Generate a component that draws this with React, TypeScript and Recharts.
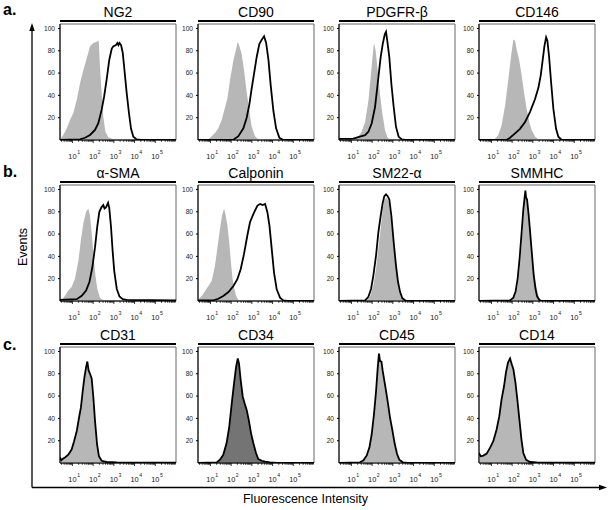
import React from "react";
import { Area, ComposedChart, Line, ReferenceArea, XAxis, YAxis } from "recharts";

// [log10 intensity, % of max events]
type Pt = [number, number];

const ng2Control: Pt[] = [[0.4,0.6],[0.56,4.5],[0.72,10],[0.88,18],[1.04,24],[1.21,36],[1.37,51],[1.53,63],[1.69,73],[1.85,84],[2.01,87],[2.17,88],[2.27,89],[2.33,66],[2.41,42],[2.49,21],[2.59,7.5],[2.73,2.4],[2.98,0.6],[3.3,0],[6,0]];
const ng2Stain: Pt[] = [[0.4,0],[1.37,0.6],[1.61,2],[1.85,4.5],[2.09,9],[2.25,15],[2.41,27],[2.53,39],[2.65,54],[2.78,72],[2.9,82],[2.98,84],[3.09,85],[3.17,87],[3.22,85],[3.27,87],[3.35,85],[3.43,78],[3.51,63],[3.62,42],[3.73,24],[3.83,10],[3.94,3],[4.1,0.6],[4.3,0],[6,0]];

const cd90Control: Pt[] = [[0.4,0],[0.9,0.6],[1.06,3.4],[1.22,6.3],[1.38,10.5],[1.54,17.6],[1.7,29],[1.82,37.5],[1.95,54.5],[2.11,71.6],[2.24,81.5],[2.32,88],[2.4,84],[2.51,77],[2.62,63],[2.75,43],[2.88,26],[2.99,12],[3.15,3.4],[3.31,0.6],[3.5,0],[6,0]];
const cd90Stain: Pt[] = [[0.4,0],[2.11,0.3],[2.35,3.4],[2.59,10.5],[2.75,20],[2.88,32],[2.99,46],[3.11,60],[3.23,74],[3.36,86],[3.48,90],[3.59,93],[3.69,87],[3.8,72],[3.91,49],[4.04,26],[4.17,10.5],[4.33,2],[4.52,0],[6,0]];

const pdgfrControl: Pt[] = [[0.4,0],[1.09,0.6],[1.33,3],[1.49,7.4],[1.66,16],[1.82,35.5],[1.93,56],[2.03,77],[2.09,87],[2.17,80],[2.27,62],[2.38,41],[2.49,24],[2.62,9],[2.73,2.4],[2.86,0.6],[3.0,0],[6,0]];
const pdgfrStain: Pt[] = [[0.4,1],[1.09,1.2],[1.41,3],[1.66,4.4],[1.82,7.4],[1.98,15],[2.14,29.6],[2.3,56],[2.41,74],[2.51,86],[2.61,94.7],[2.67,97],[2.73,89],[2.83,74],[2.93,50],[3.04,29.6],[3.15,12],[3.28,3],[3.43,0.6],[3.6,0],[6,0]];

const cd146Control: Pt[] = [[0.4,0],[1.17,0.9],[1.33,4.4],[1.49,13],[1.66,31],[1.82,55],[1.95,75.5],[2.06,90],[2.14,89],[2.22,81],[2.33,72.6],[2.46,58],[2.57,43],[2.7,28],[2.83,16],[2.94,9],[3.11,3],[3.27,0.6],[3.4,0],[6,0]];
const cd146Stain: Pt[] = [[0.4,0],[1.74,0.3],[1.9,2],[2.14,6],[2.38,10],[2.62,16],[2.86,25],[3.11,37],[3.27,47],[3.38,58],[3.48,72.6],[3.56,84.4],[3.64,92],[3.7,89],[3.78,75.5],[3.88,52],[3.99,28],[4.12,10],[4.23,3],[4.39,0],[6,0]];

const smaControl: Pt[] = [[0.4,0.5],[0.48,0.6],[0.64,4.7],[0.8,9.4],[0.96,12.5],[1.12,20],[1.29,36],[1.41,55],[1.53,70],[1.66,80],[1.77,83],[1.85,76.5],[1.93,61],[2.01,42],[2.11,23],[2.2,11],[2.33,3],[2.49,0.6],[2.7,0],[6,0]];
const smaStain: Pt[] = [[0.4,1],[1.21,1.6],[1.45,4.7],[1.66,9.4],[1.82,17],[1.96,30],[2.09,48],[2.2,67],[2.3,80],[2.4,84],[2.49,86],[2.55,83],[2.62,84],[2.72,88],[2.78,83],[2.86,67],[2.94,45],[3.02,26.6],[3.14,11],[3.27,4],[3.43,1.6],[3.62,1],[6,0.5]];

const calponinControl: Pt[] = [[0.4,1],[0.42,1.5],[0.58,4.5],[0.74,9],[0.9,13.5],[1.06,18],[1.22,31.5],[1.35,49.5],[1.46,64.5],[1.56,76.6],[1.66,82.6],[1.74,76.6],[1.82,67.6],[1.91,52.5],[1.99,34.5],[2.07,19.5],[2.16,10.5],[2.24,4.5],[2.35,0.9],[2.5,0],[6,0]];
const calponinStain: Pt[] = [[0.4,0.6],[1.14,0.6],[1.38,2],[1.62,4.5],[1.87,8],[2.11,13.5],[2.3,19.5],[2.46,28.5],[2.62,42],[2.78,58.5],[2.91,70.6],[3.04,76.6],[3.15,81],[3.27,85.6],[3.4,87],[3.52,86],[3.64,87],[3.75,79.6],[3.85,67.6],[3.96,46.5],[4.07,25.5],[4.2,10.5],[4.36,3],[4.52,0.6],[4.7,0],[6,0]];

const sm22Control: Pt[] = [[0.4,0],[1.74,0.6],[1.9,3.8],[2.06,14],[2.19,29],[2.3,47],[2.41,64.5],[2.51,82],[2.59,91],[2.7,92.6],[2.82,88],[2.91,73],[3.02,52.7],[3.14,32],[3.23,17],[3.35,5.3],[3.48,0.9],[3.6,0],[6,0]];
const sm22Stain: Pt[] = [[0.4,0],[1.66,0.6],[1.82,3.8],[1.95,11],[2.06,23],[2.19,41],[2.3,61.5],[2.41,76],[2.51,88],[2.59,94],[2.67,95.6],[2.75,94],[2.83,91],[2.93,76],[3.04,52.7],[3.15,32],[3.25,17],[3.35,8],[3.46,2.4],[3.59,0.6],[3.7,0],[6,0]];

const smmhcControl: Pt[] = [[0.4,0],[1.98,0.6],[2.14,4.4],[2.25,11.8],[2.35,26.5],[2.43,44],[2.51,64.7],[2.57,85],[2.64,100],[2.7,91],[2.78,76.5],[2.86,59],[2.96,41],[3.05,26.5],[3.15,14.7],[3.25,5.9],[3.35,1.5],[3.48,0.3],[3.6,0],[6,0]];
const smmhcStain: Pt[] = [[0.4,0],[1.9,0.6],[2.06,3],[2.17,8.8],[2.27,20.6],[2.36,38],[2.46,62],[2.54,82],[2.61,94],[2.64,99],[2.67,93],[2.72,91],[2.8,76.5],[2.88,59],[2.96,41],[3.04,23.5],[3.12,11.8],[3.2,4.4],[3.31,0.9],[3.45,0],[6,0]];

const cd31Events: Pt[] = [[0.4,5],[0.46,2.5],[0.56,4],[0.64,5],[0.8,7.5],[0.96,12],[1.08,19.6],[1.21,28.7],[1.32,40.8],[1.41,49.8],[1.5,65],[1.58,77],[1.66,86],[1.72,91],[1.78,83],[1.85,80],[1.93,75.5],[2.01,59],[2.09,37.8],[2.19,16.6],[2.28,6],[2.41,2],[2.65,0.9],[3.14,0.6],[6,0.4]];
const cd34Events: Pt[] = [[0.4,0],[1.3,0.6],[1.46,3],[1.62,7.4],[1.78,17.9],[1.91,32.7],[2.03,53.6],[2.14,71.4],[2.24,86.3],[2.32,93.8],[2.38,89],[2.46,74.4],[2.56,59.5],[2.65,53.6],[2.75,47.6],[2.85,38.7],[2.96,26.8],[3.07,17.9],[3.2,9],[3.31,3.6],[3.48,2],[3.64,1.2],[3.88,0.6],[4.2,0],[6,0]];
const cd45Events: Pt[] = [[0.4,0],[1.41,0.6],[1.58,2.4],[1.74,6.8],[1.87,14],[1.98,26],[2.09,44],[2.19,64.7],[2.27,85.5],[2.33,98],[2.38,91.4],[2.45,90.8],[2.51,82.5],[2.59,73.6],[2.67,64.7],[2.77,52.8],[2.86,41],[2.98,29],[3.09,17.2],[3.2,8.3],[3.31,3],[3.48,0.6],[3.7,0],[6,0]];
const cd14Events: Pt[] = [[0.4,9],[0.48,6],[0.61,6.6],[0.77,8.4],[0.93,13.5],[1.09,19.5],[1.25,30],[1.38,42],[1.49,57],[1.61,69],[1.7,81],[1.8,90],[1.9,93.7],[1.98,88.6],[2.06,84],[2.16,72],[2.25,57],[2.35,39],[2.45,21],[2.54,9],[2.67,3],[2.86,0.9],[3.19,0.6],[6,0.4]];

const rowLabels = ["a.", "b.", "c."];
const eventTicks = [20, 40, 60, 80, 100];
const decades = [1, 2, 3, 4, 5];
const minorTicks = [0, 1, 2, 3, 4, 5]
  .flatMap((n) => [2, 3, 4, 5, 6, 7, 8, 9].map((k) => n + Math.log10(k)))
  .filter((v) => v > 0.4 && v < 6);
const xTicks = [...decades, ...minorTicks].sort((a, b) => a - b);

const FONT = '"Liberation Sans", Arial, Helvetica, sans-serif';
const LIGHT = "#b7b7b7";
const DARK = "#747474";

type PanelDef = { title: string; control?: Pt[]; stain?: Pt[]; events?: Pt[]; fill?: string };

const panels: PanelDef[] = [
  { title: "NG2", control: ng2Control, stain: ng2Stain },
  { title: "CD90", control: cd90Control, stain: cd90Stain },
  { title: "PDGFR-β", control: pdgfrControl, stain: pdgfrStain },
  { title: "CD146", control: cd146Control, stain: cd146Stain },
  { title: "α-SMA", control: smaControl, stain: smaStain },
  { title: "Calponin", control: calponinControl, stain: calponinStain },
  { title: "SM22-α", control: sm22Control, stain: sm22Stain },
  { title: "SMMHC", control: smmhcControl, stain: smmhcStain },
  { title: "CD31", events: cd31Events, fill: LIGHT },
  { title: "CD34", events: cd34Events, fill: DARK },
  { title: "CD45", events: cd45Events, fill: LIGHT },
  { title: "CD14", events: cd14Events, fill: LIGHT },
];

const colLefts = [60, 198, 339, 479];
const rowTops = [24, 185, 347];

const rows = (pts: Pt[]) => pts.map(([x, y]) => ({ x, y }));

function LogTick(props: any) {
  const { x, y, payload } = props;
  const major = decades.includes(payload.value);
  return (
    <g>
      <line x1={x} x2={x} y1={y} y2={y + (major ? 3 : 1.8)} stroke="#000" strokeWidth={0.8} />
      {major && (
        <>
          <text x={x} y={y + 19} textAnchor="middle" fontSize={7.4} fill="#222" fontFamily={FONT}>
            10
          </text>
          <text x={x + 4.7} y={y + 14} textAnchor="start" fontSize={5.2} fill="#222" fontFamily={FONT}>
            {payload.value}
          </text>
        </>
      )}
    </g>
  );
}

function Panel({ p, left, top }: { p: PanelDef; left: number; top: number }) {
  return (
    <div style={{ position: "absolute", left: left - 30, top: top - 4, width: 150, height: 144 }}>
      <div
        style={{
          position: "absolute",
          left: 30,
          top: -15,
          width: 116,
          textAlign: "center",
          font: `14px/14px ${FONT}`,
          color: "#000",
          whiteSpace: "nowrap",
        }}
      >
        {p.title}
      </div>
      <div style={{ position: "absolute", left: 30, top: -0.5, width: 116, height: 2.5, background: "#000" }} />
      <ComposedChart width={150} height={144} margin={{ top: 4, right: 4, bottom: 0, left: 0 }}>
        <XAxis
          dataKey="x"
          type="number"
          domain={[0.4, 6]}
          allowDataOverflow
          ticks={xTicks}
          interval={0}
          tick={LogTick}
          tickLine={false}
          tickSize={0}
          tickMargin={0}
          height={24}
          axisLine={{ stroke: "#000" }}
        />
        <YAxis
          type="number"
          domain={[0, 104]}
          allowDataOverflow
          ticks={eventTicks}
          width={30}
          tickSize={2}
          tickMargin={3}
          axisLine={{ stroke: "#000" }}
          tickLine={{ stroke: "#000" }}
          tick={{ fontSize: 6.6, fill: "#222", fontFamily: FONT }}
        />
        <ReferenceArea x1={0.4} x2={6} y1={0} y2={104} fill="none" stroke="#666" strokeWidth={1} ifOverflow="visible" />
        {p.control && (
          <Area
            data={rows(p.control)}
            dataKey="y"
            type="linear"
            fill={LIGHT}
            fillOpacity={1}
            stroke="none"
            isAnimationActive={false}
          />
        )}
        {p.stain && (
          <Line
            data={rows(p.stain)}
            dataKey="y"
            type="linear"
            stroke="#000"
            strokeWidth={1.8}
            dot={false}
            isAnimationActive={false}
          />
        )}
        {p.events && (
          <Area
            data={rows(p.events)}
            dataKey="y"
            type="linear"
            fill={p.fill}
            fillOpacity={1}
            stroke="#000"
            strokeWidth={1.8}
            isAnimationActive={false}
          />
        )}
      </ComposedChart>
    </div>
  );
}

export default function App() {
  return (
    <div style={{ position: "absolute", left: 0, top: 0, width: 610, height: 510, background: "#fff" }}>
      <svg width={610} height={510} style={{ position: "absolute", left: 0, top: 0 }}>
        <line x1={32} y1={29} x2={32} y2={487.5} stroke="#000" strokeWidth={1.3} />
        <polygon points="32,23 29.3,31 34.7,31" fill="#000" />
        <line x1={32} y1={487.5} x2={601} y2={487.5} stroke="#000" strokeWidth={1.3} />
        <polygon points="607,487.5 599,484.8 599,490.2" fill="#000" />
        <text transform="translate(27,247) rotate(-90)" textAnchor="middle" fontSize={12.5} fontFamily={FONT}>
          Events
        </text>
        <text x={305.5} y={503} textAnchor="middle" fontSize={12.5} fontFamily={FONT}>
          Fluorescence Intensity
        </text>
        {rowLabels.map((l, i) => (
          <text key={l} x={3} y={[15, 177, 350][i]} fontSize={16} fontWeight="bold" fontFamily={FONT}>
            {l}
          </text>
        ))}
      </svg>
      {panels.map((p, i) => (
        <Panel key={p.title} p={p} left={colLefts[i % 4]} top={rowTops[Math.floor(i / 4)]} />
      ))}
    </div>
  );
}
